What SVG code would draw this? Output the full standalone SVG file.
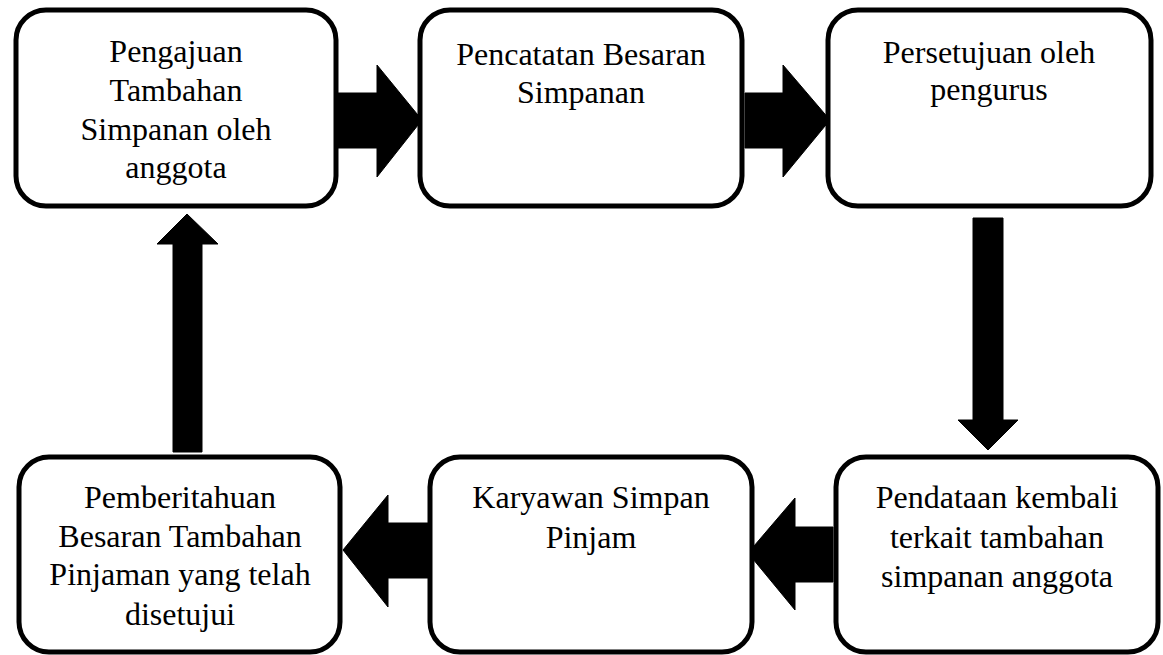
<svg xmlns="http://www.w3.org/2000/svg" width="1163" height="655" viewBox="0 0 1163 655">
  <style>
    .box { fill: #ffffff; stroke: #000000; stroke-width: 5; }
    .lbl { font-family: 'Liberation Serif', 'Times New Roman', serif; font-size: 32px; fill: #000000; text-anchor: middle; }
    .arrow { fill: #000000; stroke: #000000; stroke-width: 1; stroke-linejoin: miter; }
  </style>
  <rect width="1163" height="655" fill="#ffffff"/>

  <!-- block arrows between the steps -->
  <g id="connectors">
    <polygon class="arrow" points="338,93 377,93 377,65 422,120 377,177 377,148 338,148"/>
    <polygon class="arrow" points="745,93 783,93 783,65 830,120 783,177 783,148 745,148"/>
    <polygon class="arrow" points="973,218 1003,218 1003,420 1018,420 988,450 958,420 973,420"/>
    <polygon class="arrow" points="833,527 795,527 795,498 748,553 795,610 795,582 833,582"/>
    <polygon class="arrow" points="430,523 388,523 388,495 343,550 388,607 388,578 430,578"/>
    <polygon class="arrow" points="173,452 173,244 157,244 187,214 218,244 202,244 202,452"/>
  </g>

  <g id="step-pengajuan">
    <rect class="box" x="16" y="10" width="320" height="196" rx="30" ry="30"/>
    <text class="lbl" x="176" y="62">Pengajuan</text>
    <text class="lbl" x="176" y="101">Tambahan</text>
    <text class="lbl" x="176" y="140">Simpanan oleh</text>
    <text class="lbl" x="176" y="178">anggota</text>
  </g>

  <g id="step-pencatatan">
    <rect class="box" x="420" y="10" width="322" height="196" rx="30" ry="30"/>
    <text class="lbl" x="581" y="65">Pencatatan Besaran</text>
    <text class="lbl" x="581" y="103">Simpanan</text>
  </g>

  <g id="step-persetujuan">
    <rect class="box" x="828" y="10" width="323" height="196" rx="30" ry="30"/>
    <text class="lbl" x="989" y="63">Persetujuan oleh</text>
    <text class="lbl" x="989" y="100">pengurus</text>
  </g>

  <g id="step-pendataan">
    <rect class="box" x="836" y="457" width="322" height="195" rx="30" ry="30"/>
    <text class="lbl" x="997" y="508">Pendataan kembali</text>
    <text class="lbl" x="997" y="548">terkait tambahan</text>
    <text class="lbl" x="997" y="587">simpanan anggota</text>
  </g>

  <g id="step-karyawan">
    <rect class="box" x="430" y="457" width="322" height="195" rx="30" ry="30"/>
    <text class="lbl" x="591" y="508">Karyawan Simpan</text>
    <text class="lbl" x="591" y="548">Pinjam</text>
  </g>

  <g id="step-pemberitahuan">
    <rect class="box" x="19" y="457" width="321" height="195" rx="30" ry="30"/>
    <text class="lbl" x="180" y="508">Pemberitahuan</text>
    <text class="lbl" x="180" y="547">Besaran Tambahan</text>
    <text class="lbl" x="180" y="585">Pinjaman yang telah</text>
    <text class="lbl" x="180" y="625">disetujui</text>
  </g>
</svg>
